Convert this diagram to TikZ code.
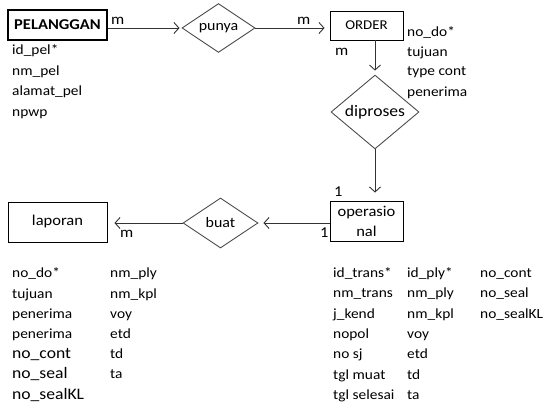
\documentclass[tikz,border=0pt]{standalone}
\usepackage{fontspec}
\setmainfont{Carlito}[FakeStretch=1.1]
\usetikzlibrary{shapes.geometric,arrows.meta}

\tikzset{
  entity/.style={draw=black, line width=0.9pt, inner sep=0pt, font=\fontsize{15}{17}\selectfont},
  relation/.style={draw=black!70, line width=0.9pt, diamond, inner sep=0pt, font=\fontsize{14.5}{16}\selectfont},
  link/.style={draw=black!80, line width=0.9pt, -{Straight Barb[length=5pt,width=11pt,line width=0.9pt]}},
  attr/.style={anchor=base west, inner sep=0pt, font=\fontsize{14}{16}\selectfont, text=black},
  attrbig/.style={attr, font=\fontsize{16}{18}\selectfont},
  card/.style={anchor=base west, inner sep=0pt, font=\fontsize{15}{17}\selectfont}
}

\begin{document}
\begin{tikzpicture}[x=1pt, y=-1pt]
\useasboundingbox (0,0) rectangle (543,403);

% entities
\node[entity, line width=1.4pt, minimum width=99pt, minimum height=30pt,
      font=\fontsize{15}{17}\selectfont\bfseries] (pel) at (57.5,25) {PELANGGAN};
\node[entity, minimum width=73pt, minimum height=29pt,
      font=\fontsize{13.5}{15}\selectfont] (order) at (366.5,25.5) {ORDER};
\node[entity, minimum width=73pt, minimum height=40pt, align=center,
      font=\fontsize{15}{20}\selectfont] (ops) at (366.5,221) {operasio\\nal};
\node[entity, minimum width=99pt, minimum height=40pt] (lap) at (57.5,222) {laporan};

% relationships
\node[relation, minimum width=73pt, minimum height=44pt] (punya) at (218.5,28) {punya};
\node[relation, minimum width=88pt, minimum height=48pt,
      font=\fontsize{16}{18}\selectfont] (dipr) at (375,112) {diproses};
\node[relation, minimum width=75pt, minimum height=50pt] (buat) at (220.5,223) {buat};

% connectors
\draw[link, shorten >=2pt] (punya.west -| pel.east) -- (punya.west);
\draw[link, shorten >=5pt] (punya.east) -- (punya.east -| order.west);
\draw[link, shorten >=4pt] (order.south -| dipr.north) -- (dipr.north);
\draw[link, shorten >=8pt] (dipr.south) -- (dipr.south |- ops.north);
\draw[link, shorten >=5pt] (buat.east -| ops.west) -- (buat.east);
\draw[link, shorten >=7pt] (buat.west) -- (buat.west -| lap.east);

% cardinalities
\node[card] (c1) at (111,25) {m};
\node[card] (c2) at (297,25) {m};
\node[card] (c3) at (335,56) {m};
\node[card] (c4) at (334,197) {1};
\node[card] (c5) at (320,237) {1};
\node[card] (c6) at (120,237) {m};

% attributes of PELANGGAN
\node[attr] (a1) at (12,55) {id\_pel*};
\node[attr] (a2) at (12,76) {nm\_pel};
\node[attr] (a3) at (12,96) {alamat\_pel};
\node[attr] (a4) at (12,117) {npwp};

% attributes of ORDER
\node[attr] (b1) at (407,37) {no\_do*};
\node[attr] (b2) at (407,57) {tujuan};
\node[attr] (b3) at (407,76) {type cont};
\node[attr] (b4) at (407,97) {penerima};

% attributes of laporan
\node[attr] (l1) at (12,277) {no\_do*};
\node[attr] (l2) at (12,298) {tujuan};
\node[attr] (l3) at (12,318) {penerima};
\node[attr] (l4) at (12,338) {penerima};
\node[attrbig] (l5) at (12,358) {no\_cont};
\node[attrbig] (l6) at (12,378) {no\_seal};
\node[attrbig] (l7) at (12,399) {no\_sealKL};
\node[attr] (m1) at (110,277) {nm\_ply};
\node[attr] (m2) at (110,298) {nm\_kpl};
\node[attr] (m3) at (110,318) {voy};
\node[attr] (m4) at (110,338) {etd};
\node[attr] (m5) at (110,358) {td};
\node[attr] (m6) at (110,378) {ta};

% attributes of operasional
\node[attr] (o1) at (333,277) {id\_trans*};
\node[attr] (o2) at (333,297) {nm\_trans};
\node[attr] (o3) at (333,318) {j\_kend};
\node[attr] (o4) at (333,338) {nopol};
\node[attr] (o5) at (333,358) {no sj};
\node[attr] (o6) at (333,379) {tgl muat};
\node[attr] (o7) at (333,399) {tgl selesai};
\node[attr] (p1) at (407,277) {id\_ply*};
\node[attr] (p2) at (407,297) {nm\_ply};
\node[attr] (p3) at (407,318) {nm\_kpl};
\node[attr] (p4) at (407,338) {voy};
\node[attr] (p5) at (407,358) {etd};
\node[attr] (p6) at (407,379) {td};
\node[attr] (p7) at (407,399) {ta};
\node[attr] (q1) at (480,277) {no\_cont};
\node[attr] (q2) at (480,297) {no\_seal};
\node[attr] (q3) at (480,318) {no\_sealKL};
\end{tikzpicture}
\end{document}
